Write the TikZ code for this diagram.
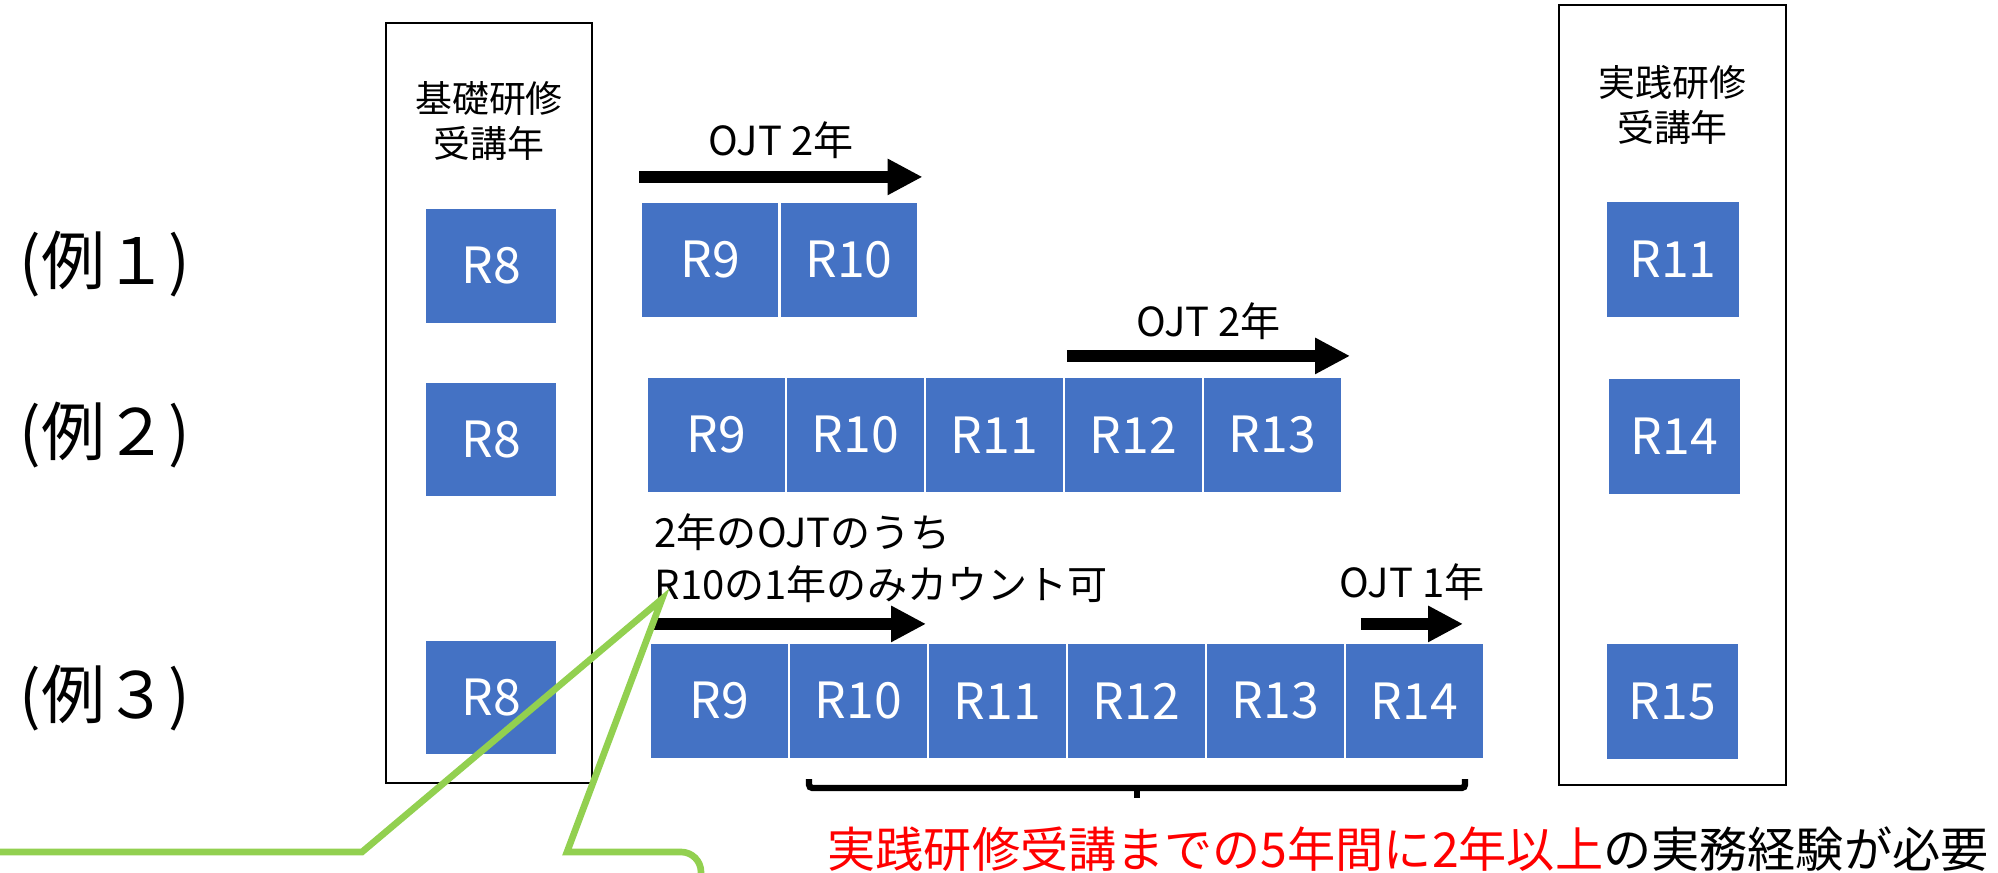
\documentclass[tikz,border=0pt]{standalone}
\usepackage{fontspec}
\setmainfont{Noto Sans CJK JP}
\usepackage{tikz}
\usetikzlibrary{arrows.meta,positioning}
\definecolor{cellblue}{HTML}{4472C4}
\definecolor{calloutgreen}{HTML}{92D050}
\tikzstyle{yearbox} = [rectangle, draw=black, line width=0.7pt]
\tikzstyle{head} = [align=center, font=\fontsize{10.5}{12.8}\selectfont, inner sep=0pt]
\tikzstyle{cell} = [rectangle, minimum width=1.39cm, minimum height=1.16cm, inner sep=0pt, fill=cellblue, draw=white, line width=0.6pt, text=white, font=\fontsize{14.2}{17}\selectfont]
\tikzstyle{kisocell} = [cell, minimum width=1.32cm]
\tikzstyle{jissencell} = [cell, minimum width=1.34cm, minimum height=1.17cm]
\tikzstyle{exlabel} = [font=\fontsize{18.2}{22}\selectfont, inner sep=0pt]
\tikzstyle{ojt} = [line width=3.2pt, -{Triangle[length=0.35cm,width=0.34cm]}]
\tikzstyle{ojtlabel} = [font=\fontsize{11.4}{14}\selectfont, inner sep=0pt]
\tikzstyle{notetext} = [align=left, font=\fontsize{11.4}{14.8}\selectfont, inner sep=0pt]
\tikzstyle{needtext} = [font=\fontsize{13.7}{16}\selectfont, inner sep=0pt]
\tikzstyle{bracket} = [line width=1.8pt, rounded corners=1pt]
\tikzstyle{callout} = [line width=1.9pt, draw=calloutgreen]

\begin{document}
\begin{tikzpicture}[node distance=1.39cm]
\useasboundingbox (0,0) rectangle (19.98,8.73);

\node (kiso) [yearbox, minimum width=2.06cm, minimum height=7.60cm] at (4.89,4.70) {};
\node (jissen) [yearbox, minimum width=2.27cm, minimum height=7.80cm] at (16.725,4.78) {};
\node (kisohead) [head] at ([yshift=-0.99cm]kiso.north) {基礎研修\\受講年};
\node (jissenhead) [head] at ([yshift=-1.01cm]jissen.north) {実践研修\\受講年};

% 例1
\node (ex1) [exlabel] at (1.05,6.09) {(例１)};
\node (a8) [kisocell] at (4.91,6.07) {R8};
\node (a9) [cell] at (7.10,6.13) {R9};
\node (a10) [cell, right of=a9] {R10};
\node (a11) [jissencell] at (16.73,6.135) {R11};

% 例2
\node (ex2) [exlabel] at (1.05,4.38) {(例２)};
\node (b8) [kisocell] at (4.91,4.335) {R8};
\node (b9) [cell] at (7.165,4.38) {R9};
\node (b10) [cell, right of=b9] {R10};
\node (b11) [cell, right of=b10] {R11};
\node (b12) [cell, right of=b11] {R12};
\node (b13) [cell, right of=b12] {R13};
\node (b14) [jissencell] at (16.745,4.365) {R14};

% 例3
\node (ex3) [exlabel] at (1.05,1.75) {(例３)};
\node (c8) [kisocell] at (4.91,1.755) {R8};
\node (c9) [cell] at (7.195,1.72) {R9};
\node (c10) [cell, right of=c9] {R10};
\node (c11) [cell, right of=c10] {R11};
\node (c12) [cell, right of=c11] {R12};
\node (c13) [cell, right of=c12] {R13};
\node (c14) [cell, right of=c13] {R14};
\node (c15) [jissencell] at (16.725,1.715) {R15};

\draw [ojt] ([yshift=0.24cm]a9.north west) -- node[ojtlabel, yshift=0.37cm] {OJT 2年} ([xshift=0.03cm,yshift=0.24cm]a10.north east);
\draw [ojt] ([xshift=0.04cm,yshift=0.20cm]b12.north west) -- node[ojtlabel, yshift=0.35cm] {OJT 2年} ([xshift=0.07cm,yshift=0.20cm]b13.north east);
\draw [ojt] ([xshift=0.05cm,yshift=0.18cm]c9.north west) -- ([xshift=-0.03cm,yshift=0.18cm]c10.north east);
\draw [ojt] ([xshift=0.17cm,yshift=0.18cm]c14.north west) -- node[ojtlabel, yshift=0.42cm] {OJT 1年} ([xshift=-0.22cm,yshift=0.18cm]c14.north east);

\node (note) [notetext, anchor=west] at ([xshift=0.05cm,yshift=0.84cm]c9.north west) {2年のOJTのうち\\R10の1年のみカウント可};

\coordinate (bl) at ([xshift=0.21cm,yshift=-0.28cm]c10.south west);
\coordinate (br) at ([xshift=-0.20cm,yshift=-0.28cm]c14.south east);
\draw [bracket] ([yshift=0.09cm]bl) -- (bl) -- coordinate[midway] (bm) (br) -- ([yshift=0.09cm]br);
\draw [bracket] (bm) -- ++(0,-0.10);

\node (need) [needtext] at (14.08,0.24) {\textcolor{red}{実践研修受講までの5年間に2年以上}の実務経験が必要};

\begin{scope}
\clip (0,0) rectangle (19.98,8.73);
\coordinate (tip) at (6.62,2.74);
\draw [callout] (-0.5,0.21) -- (3.62,0.21) -- (tip) -- (5.67,0.21) [rounded corners=0.2cm] -- (7.01,0.21) -- (7.01,-0.5);
\end{scope}

\end{tikzpicture}
\end{document}
